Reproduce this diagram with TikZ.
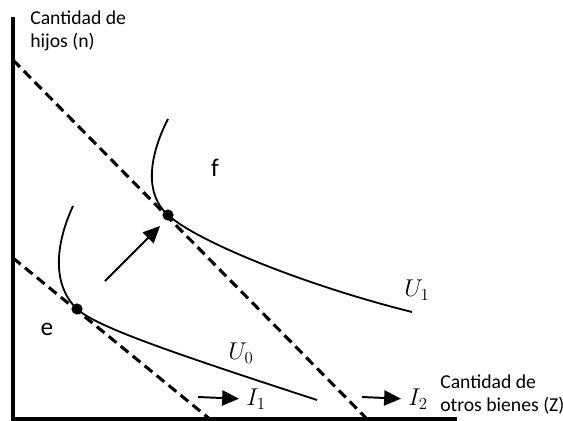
\documentclass[tikz,border=0pt]{standalone}
\usepackage{fontspec}
\setmainfont{Carlito}
\usepackage{tikz}
\usetikzlibrary{arrows.meta,positioning,calc}

\begin{document}
\begin{tikzpicture}[x=0.025cm, y=-0.025cm,
    axisline/.style={black, line width=2.2pt},
    budget/.style={black, line width=2.2pt, dash pattern=on 7pt off 4pt},
    indiff/.style={black, line width=1.3pt},
    shift arrow/.style={-{Triangle[length=4.2mm,width=3.8mm]}, line width=1.4pt},
    smalltext/.style={font=\fontsize{14}{16}\selectfont, align=left, anchor=north west, inner sep=0pt},
    ptlabel/.style={font=\fontsize{18}{20}\selectfont, inner sep=0pt},
    curvelabel/.style={font=\fontsize{17}{19}\selectfont, inner sep=0pt},
    tangency/.style={circle, fill=black, inner sep=0pt, minimum size=2.8mm}]
        \useasboundingbox (0,0) rectangle (563,420);
        % axes
        \coordinate (origin) at (13,419);
        \coordinate (ytop) at (13,17);
        \coordinate (xend) at (457,419);
        \draw[axisline] (ytop) -- (origin) -- (xend);
        % budget lines
        \coordinate (b2top) at (13,60);
        \coordinate (b2end) at (368,420);
        \coordinate (b1top) at (13,258);
        \coordinate (b1end) at (211,420);
        \draw[budget] (b2top) -- (b2end);
        \draw[budget] (b1top) -- (b1end);
        % tangency points
        \node[tangency] (f) at (168,215) {};
        \node[tangency] (e) at (77,309) {};
        % indifference curves
        \draw[indiff] (168,119) .. controls (148,158) and (145,195) .. (f.center)
              .. controls (195,240) and (300,284) .. (412,312);
        \draw[indiff] (73,206) .. controls (55,245) and (52,285) .. (e.center)
              .. controls (97,327) and (170,352) .. (317,400);
        % shift of the optimum
        \coordinate (shiftstart) at (105,281);
        \coordinate (shiftend) at (160,226);
        \draw[shift arrow] (shiftstart) -- (shiftend);
        % labels
        \node[smalltext] (ylab) at (30,11) {Cantidad de\\hijos (n)};
        \node[smalltext] (xlab) at (440,375) {Cantidad de\\otros bienes (Z)};
        \node[ptlabel] (flab) at (215,168) {f};
        \node[ptlabel] (elab) at (47,329) {e};
        \node[curvelabel] (U1) at (417,290) {$U_1$};
        \node[curvelabel] (U0) at (241,353) {$U_0$};
        \node[curvelabel] (I1) at (256,399) {$I_1$};
        \node[curvelabel] (I2) at (418,399) {$I_2$};
        \draw[shift arrow, shorten >=5pt] (198,397) -- (I1.west);
        \draw[shift arrow, shorten >=5pt] (362,397) -- (I2.west);
      \end{tikzpicture}
\end{document}
